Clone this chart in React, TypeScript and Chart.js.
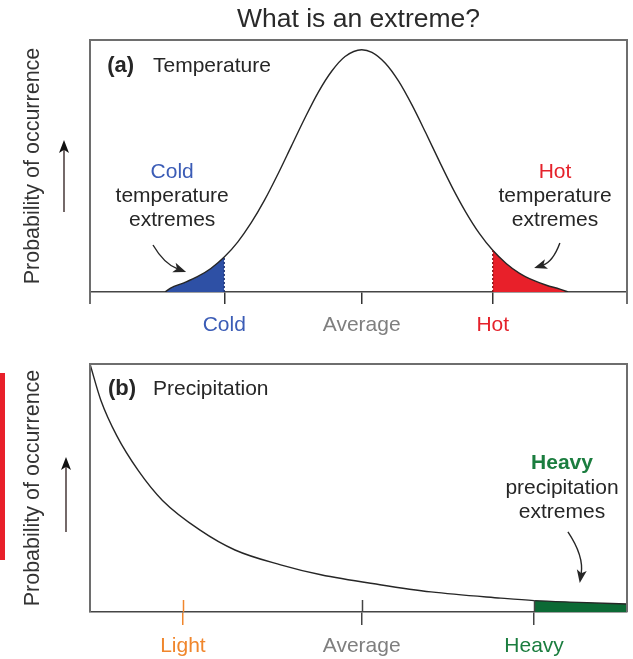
import React, { useEffect, useRef } from 'react';
import { Chart, registerables } from 'chart.js';

Chart.register(...registerables);

const FONT = '"Liberation Sans", Arial, Helvetica, sans-serif';

// ---------------- data ----------------
const chartTitle = 'What is an extreme?';
const yAxisTitle = 'Probability of occurrence';

// (a) Temperature distribution (x: 0..100 across the panel, y: relative probability)
const tempX = [14, 15, 17.5, 20, 22.5, 25, 27.5, 30, 32.5, 35, 37.5, 40, 42.5, 45, 47.5, 50.6, 52.5, 55, 57.5, 60, 62.5, 65, 67.5, 70, 72.5, 75, 77.5, 80, 82.5, 85, 87.5, 89];
const tempY = [0, 1.6, 3.8, 6.3, 9.7, 14.4, 20.6, 28.5, 37.9, 48.7, 60.2, 71.7, 82.4, 91.1, 97.2, 100, 98.9, 94.4, 86.9, 77.0, 65.8, 54.2, 43.0, 32.9, 24.2, 17.2, 11.8, 7.7, 4.9, 2.8, 1.2, 0];
const coldThreshold = 25;
const hotThreshold = 75;
const tempTickValues = [25, 50.6, 75];
const tempTickLabels = ['Cold', 'Average', 'Hot'];

// (b) Precipitation distribution
const precipX = [0, 2, 5, 9, 13.5, 20.5, 27, 35.5, 43, 54, 63.5, 76.5, 82.7, 91, 100];
const precipY = [100, 85.5, 71, 57, 45, 33, 25, 19, 15, 11, 8.1, 5.6, 4.6, 3.9, 3.2];
const heavyThreshold = 82.7;
const precipTickValues = [17.3, 50.6, 82.7];
const precipTickLabels = ['Light', 'Average', 'Heavy'];

// ---------------- styles ----------------
const INK = '#262626';
const BOX = '#6e6e6e';
const AXIS = '#454545';
const COLD = '#3b5cb6';
const COLD_FILL = '#2e50a5';
const COLD_EDGE = '#1c2f6e';
const HOT = '#e5222b';
const HOT_FILL = '#e8202a';
const HOT_EDGE = '#7a1216';
const AVG = '#7f7f7f';
const LIGHT = '#f0862c';
const HEAVY = '#1b7d3f';
const HEAVY_FILL = '#0c6a35';
const tempTickColors = [COLD, AVG, HOT];
const tempTickMarkColors = ['#333', '#333', '#333'];
const precipTickColors = [LIGHT, AVG, HEAVY];
const precipTickMarkColors = [LIGHT, '#444', '#444'];

function arrowHead(ctx: CanvasRenderingContext2D, tx: number, ty: number, dx: number, dy: number, len: number, w: number) {
  const d = Math.hypot(dx, dy);
  const ux = dx / d, uy = dy / d;
  const bx = tx - ux * len, by = ty - uy * len;
  ctx.beginPath();
  ctx.moveTo(tx, ty);
  ctx.lineTo(bx - uy * w / 2, by + ux * w / 2);
  ctx.lineTo(tx - ux * len * 0.75, ty - uy * len * 0.75);
  ctx.lineTo(bx + uy * w / 2, by - ux * w / 2);
  ctx.closePath();
  ctx.fill();
}

function curvedArrow(ctx: CanvasRenderingContext2D, p0: number[], c: number[], p1: number[]) {
  const dx = p1[0] - c[0], dy = p1[1] - c[1];
  const d = Math.hypot(dx, dy);
  const len = 13;
  const bx = p1[0] - dx / d * len * 0.7, by = p1[1] - dy / d * len * 0.7;
  ctx.beginPath();
  ctx.moveTo(p0[0], p0[1]);
  ctx.quadraticCurveTo(c[0], c[1], bx, by);
  ctx.stroke();
  arrowHead(ctx, p1[0], p1[1], dx, dy, len, 10);
}

function upArrow(ctx: CanvasRenderingContext2D, x: number, tail: number, tip: number) {
  ctx.beginPath();
  ctx.moveTo(x, tail);
  ctx.lineTo(x, tip + 8);
  ctx.stroke();
  arrowHead(ctx, x, tip, 0, -1, 13, 10);
}

function textLines(ctx: CanvasRenderingContext2D, x: number, ys: number[], lines: string[], colors: string[], weights: string[]) {
  ctx.textAlign = 'center';
  ctx.textBaseline = 'middle';
  lines.forEach((t, i) => {
    ctx.font = `${weights[i]} 21px ${FONT}`;
    ctx.fillStyle = colors[i];
    ctx.fillText(t, x, ys[i]);
  });
}

const decorA = {
  id: 'decorA',
  afterDatasetsDraw(chart: any) {
    const { ctx, chartArea: a, scales } = chart;
    const X = (u: number) => scales.x.getPixelForValue(u);
    const Y = (v: number) => scales.y.getPixelForValue(v);
    ctx.save();
    // frame
    ctx.strokeStyle = BOX;
    ctx.lineWidth = 2;
    ctx.beginPath();
    ctx.moveTo(a.left, a.bottom + 12);
    ctx.lineTo(a.left, a.top);
    ctx.lineTo(a.right, a.top);
    ctx.lineTo(a.right, a.bottom + 12);
    ctx.stroke();
    // dashed threshold edges
    ctx.lineWidth = 1.3;
    ctx.setLineDash([2, 2]);
    const cv = tempY[tempX.indexOf(coldThreshold)];
    ctx.strokeStyle = COLD_EDGE;
    ctx.beginPath(); ctx.moveTo(X(coldThreshold), Y(0)); ctx.lineTo(X(coldThreshold), Y(cv)); ctx.stroke();
    const hv = tempY[tempX.indexOf(hotThreshold)];
    ctx.strokeStyle = HOT_EDGE;
    ctx.beginPath(); ctx.moveTo(X(hotThreshold), Y(0)); ctx.lineTo(X(hotThreshold), Y(hv)); ctx.stroke();
    ctx.setLineDash([]);
    // panel label
    ctx.textBaseline = 'middle';
    ctx.textAlign = 'left';
    ctx.fillStyle = INK;
    ctx.font = `bold 22px ${FONT}`;
    ctx.fillText('(a)', X(3.2), Y(93.3));
    ctx.font = `21px ${FONT}`;
    ctx.fillText('Temperature', X(11.73), Y(93.3));
    // annotations
    textLines(ctx, X(15.3), [Y(49.3), Y(39.4), Y(29.7)], ['Cold', 'temperature', 'extremes'], [COLD, INK, INK], ['normal', 'normal', 'normal']);
    textLines(ctx, X(86.6), [Y(49.3), Y(39.4), Y(29.7)], ['Hot', 'temperature', 'extremes'], [HOT, INK, INK], ['normal', 'normal', 'normal']);
    ctx.strokeStyle = INK;
    ctx.fillStyle = INK;
    ctx.lineWidth = 1.4;
    curvedArrow(ctx, [X(11.73), Y(19.4)], [X(13.8), Y(11.6)], [X(17.9), Y(8.25)]);
    curvedArrow(ctx, [X(87.5), Y(20.2)], [X(86.2), Y(12.4)], [X(82.7), Y(9.9)]);
    // y-side arrow
    ctx.strokeStyle = '#3a2a2a';
    ctx.fillStyle = '#111';
    upArrow(ctx, 64, 212, 140);
    ctx.restore();
  },
};

const decorB = {
  id: 'decorB',
  afterDatasetsDraw(chart: any) {
    const { ctx, chartArea: a, scales } = chart;
    const X = (u: number) => scales.x.getPixelForValue(u);
    const Y = (v: number) => scales.y.getPixelForValue(v);
    ctx.save();
    // side bar
    ctx.fillStyle = '#e8202a';
    ctx.fillRect(0, 33, 5, 187);
    // frame
    ctx.strokeStyle = BOX;
    ctx.lineWidth = 2;
    ctx.beginPath();
    ctx.moveTo(a.left, a.bottom);
    ctx.lineTo(a.left, a.top);
    ctx.lineTo(a.right, a.top);
    ctx.lineTo(a.right, a.bottom);
    ctx.stroke();
    // tick marks above the axis
    ctx.lineWidth = 1.5;
    precipTickValues.forEach((v, i) => {
      ctx.strokeStyle = precipTickMarkColors[i];
      ctx.beginPath();
      ctx.moveTo(Math.round(X(v)) + 0.5, a.bottom);
      ctx.lineTo(Math.round(X(v)) + 0.5, a.bottom - 12);
      ctx.stroke();
    });
    // panel label
    ctx.textBaseline = 'middle';
    ctx.textAlign = 'left';
    ctx.fillStyle = INK;
    ctx.font = `bold 22px ${FONT}`;
    ctx.fillText('(b)', X(3.35), Y(90));
    ctx.font = `21px ${FONT}`;
    ctx.fillText('Precipitation', X(11.73), Y(90));
    textLines(ctx, X(87.9), [Y(60.2), Y(50.1), Y(40.4)], ['Heavy', 'precipitation', 'extremes'], [HEAVY, INK, INK], ['bold', 'normal', 'normal']);
    ctx.strokeStyle = INK;
    ctx.fillStyle = INK;
    ctx.lineWidth = 1.4;
    curvedArrow(ctx, [X(89.0), Y(32.3)], [X(92.0), Y(22.6)], [X(91.2), Y(11.7)]);
    ctx.strokeStyle = '#3a2a2a';
    ctx.fillStyle = '#111';
    upArrow(ctx, 66, 192, 117);
    ctx.restore();
  },
};

function yAxis(max: number) {
  return {
    min: 0,
    max,
    afterFit: (s: any) => { s.width = 90; },
    ticks: { display: false },
    grid: { display: false },
    border: { display: false },
    title: {
      display: true,
      text: yAxisTitle,
      color: '#333',
      font: { family: FONT, size: 21.5, weight: 'normal' },
      padding: { top: 20, bottom: 0 },
    },
  };
}

function xAxis(values: number[], labels: string[], colors: string[], markColors: string[], height: number, tickLen: number, pad: number) {
  return {
    type: 'linear',
    min: 0,
    max: 100,
    afterBuildTicks: (s: any) => { s.ticks = values.map((v) => ({ value: v })); },
    afterFit: (s: any) => { s.height = height; },
    ticks: {
      autoSkip: false,
      maxRotation: 0,
      minRotation: 0,
      padding: pad,
      callback: (_v: any, i: number) => labels[i],
      color: (c: any) => colors[c.index],
      font: { family: FONT, size: 21 },
    },
    grid: {
      drawOnChartArea: false,
      tickLength: tickLen,
      color: (c: any) => markColors[c.index] || '#333',
      lineWidth: 1.5,
    },
    border: { color: AXIS, width: 1.6 },
  };
}

export default function App() {
  const refA = useRef<HTMLCanvasElement>(null);
  const refB = useRef<HTMLCanvasElement>(null);

  useEffect(() => {
    Chart.defaults.font.family = FONT;
    const tempPts = tempX.map((x, i) => ({ x, y: tempY[i] }));
    const precipPts = precipX.map((x, i) => ({ x, y: precipY[i] }));

    const chartA = new Chart(refA.current as HTMLCanvasElement, {
      type: 'line',
      data: {
        datasets: [
          { label: 'Temperature', data: tempPts, borderColor: INK, borderWidth: 1.4, pointRadius: 0, cubicInterpolationMode: 'monotone', fill: false },
          { label: 'Cold extremes', data: tempPts.filter((p) => p.x <= coldThreshold), borderColor: 'rgba(0,0,0,0)', backgroundColor: COLD_FILL, pointRadius: 0, cubicInterpolationMode: 'monotone', fill: 'origin' },
          { label: 'Hot extremes', data: tempPts.filter((p) => p.x >= hotThreshold), borderColor: 'rgba(0,0,0,0)', backgroundColor: HOT_FILL, pointRadius: 0, cubicInterpolationMode: 'monotone', fill: 'origin' },
        ],
      },
      options: {
        animation: false,
        responsive: false,
        layout: { padding: { right: 6 } },
        plugins: {
          legend: { display: false },
          tooltip: { enabled: false },
          title: {
            display: true,
            text: chartTitle,
            fullSize: false,
            color: '#2a2a2a',
            font: { family: FONT, size: 26.5, weight: 'normal' },
            padding: { top: 3.5, bottom: 4.7 },
          },
        },
        scales: {
          x: xAxis(tempTickValues, tempTickLabels, tempTickColors, tempTickMarkColors, 48, 12, 9) as any,
          y: yAxis(104) as any,
        },
      },
      plugins: [decorA],
    } as any);

    const chartB = new Chart(refB.current as HTMLCanvasElement, {
      type: 'line',
      data: {
        datasets: [
          { label: 'Precipitation', data: precipPts, borderColor: INK, borderWidth: 1.4, pointRadius: 0, cubicInterpolationMode: 'monotone', fill: false },
          { label: 'Heavy extremes', data: precipPts.filter((p) => p.x >= heavyThreshold), borderColor: 'rgba(0,0,0,0)', backgroundColor: HEAVY_FILL, pointRadius: 0, cubicInterpolationMode: 'monotone', fill: 'origin' },
        ],
      },
      options: {
        animation: false,
        responsive: false,
        layout: { padding: { top: 24, right: 6 } },
        plugins: {
          legend: { display: false },
          tooltip: { enabled: false },
          title: { display: false },
        },
        scales: {
          x: xAxis(precipTickValues, precipTickLabels, precipTickColors, precipTickMarkColors, 47, 13, 9) as any,
          y: yAxis(100) as any,
        },
      },
      plugins: [decorB],
    } as any);

    return () => {
      chartA.destroy();
      chartB.destroy();
    };
  }, []);

  return (
    <div style={{ position: 'absolute', left: 0, top: 0, width: 633, height: 659, background: '#fff' }}>
      <canvas ref={refA} width={633} height={340} style={{ position: 'absolute', left: 0, top: 0 }} />
      <canvas ref={refB} width={633} height={319} style={{ position: 'absolute', left: 0, top: 340 }} />
    </div>
  );
}
